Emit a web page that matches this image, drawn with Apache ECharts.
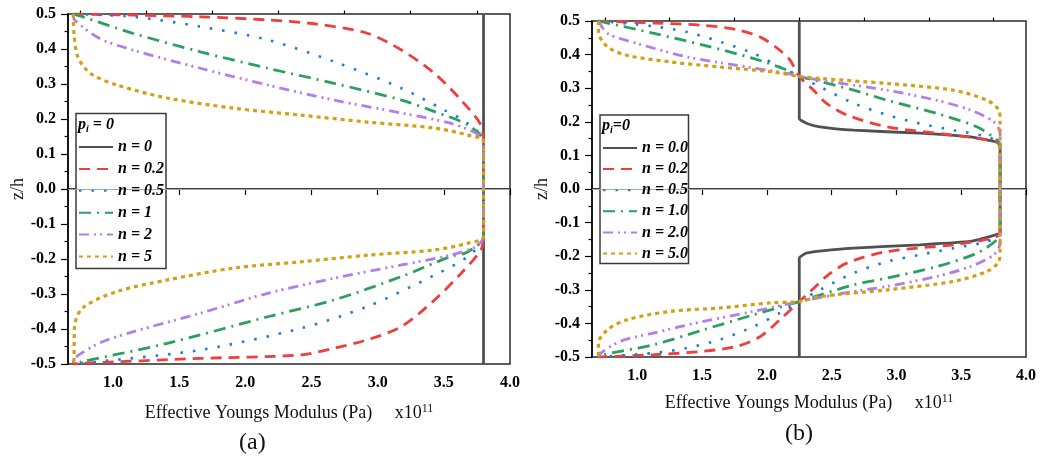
<!DOCTYPE html>
<html>
<head>
<meta charset="utf-8">
<script src="https://cdn.jsdelivr.net/npm/echarts@6/dist/echarts.min.js"></script>
<style>
html, body { margin: 0; padding: 0; background: #fff; }
#chart { width: 1048px; height: 456px; }
</style>
</head>
<body>
<div id="chart"></div>
<script>
// axis ticks
var xMajor = [1.0, 1.5, 2.0, 2.5, 3.0, 3.5, 4.0]
var xMinor = [0.75, 1.25, 1.75, 2.25, 2.75, 3.25, 3.75]
var namesA = ['n = 0', 'n = 0.2', 'n = 0.5', 'n = 1', 'n = 2', 'n = 5']
var namesB = ['n = 0.0', 'n = 0.2', 'n = 0.5', 'n = 1.0', 'n = 2.0', 'n = 5.0']

// panel (a): [E x1e11, z/h]
var aN0 = [[3.80, 0.500], [3.80, -0.500]]
var aN02 = [[0.70, 0.500], [1.15, 0.497], [1.66, 0.492], [2.17, 0.483], [2.54, 0.471], [2.92, 0.445], [3.18, 0.397], [3.43, 0.330], [3.63, 0.254], [3.78, 0.183], [3.80, 0.130],
  [3.80, -0.130], [3.78, -0.174], [3.63, -0.241], [3.43, -0.317], [3.18, -0.393], [2.92, -0.431], [2.67, -0.455], [2.42, -0.474], [1.66, -0.484], [0.77, -0.498], [0.70, -0.500]]
var aN05 = [[0.70, 0.500], [1.15, 0.492], [1.66, 0.464], [2.17, 0.426], [2.67, 0.364], [3.18, 0.288], [3.50, 0.226], [3.68, 0.188], [3.80, 0.135],
  [3.80, -0.135], [3.68, -0.193], [3.43, -0.246], [2.92, -0.336], [2.42, -0.398], [1.66, -0.460], [0.90, -0.493], [0.70, -0.500]]
var aN1 = [[0.70, 0.500], [0.77, 0.492], [1.15, 0.445], [1.66, 0.392], [2.17, 0.345], [2.67, 0.302], [3.18, 0.254], [3.43, 0.221], [3.68, 0.183], [3.80, 0.135],
  [3.80, -0.135], [3.68, -0.180], [3.55, -0.193], [3.18, -0.250], [2.67, -0.317], [2.17, -0.365], [1.41, -0.441], [0.77, -0.493], [0.70, -0.500]]
var aN2 = [[0.70, 0.500], [0.71, 0.483], [0.90, 0.430], [1.15, 0.397], [1.66, 0.345], [2.17, 0.297], [2.67, 0.254], [3.18, 0.217], [3.55, 0.188], [3.74, 0.160], [3.80, 0.135],
  [3.80, -0.135], [3.74, -0.165], [3.55, -0.189], [3.18, -0.217], [2.67, -0.255], [2.17, -0.298], [1.66, -0.355], [1.15, -0.408], [0.90, -0.440], [0.71, -0.483], [0.70, -0.500]]
var aN5 = [[0.70, 0.500], [0.705, 0.445], [0.735, 0.377], [0.83, 0.330], [1.03, 0.297], [1.41, 0.260], [1.91, 0.231], [2.42, 0.211], [2.93, 0.191], [3.43, 0.174], [3.68, 0.154], [3.80, 0.135],
  [3.80, -0.135], [3.68, -0.155], [3.43, -0.174], [2.93, -0.189], [2.42, -0.208], [1.91, -0.226], [1.41, -0.260], [1.03, -0.293], [0.77, -0.340], [0.71, -0.393], [0.705, -0.485], [0.70, -0.500]]

// panel (b)
var bN0 = [[2.25, 0.500], [2.25, 0.210], [2.31, 0.195], [2.41, 0.185], [2.67, 0.175], [3.18, 0.166], [3.57, 0.155], [3.77, 0.140], [3.80, 0.130],
  [3.80, -0.130], [3.77, -0.136], [3.57, -0.156], [3.18, -0.166], [2.67, -0.176], [2.31, -0.190], [2.25, -0.206], [2.25, -0.500]]
var bN02 = [[0.70, 0.500], [1.13, 0.494], [1.51, 0.487], [1.77, 0.474], [1.95, 0.452], [2.10, 0.413], [2.18, 0.383], [2.25, 0.335], [2.36, 0.294], [2.46, 0.255], [2.62, 0.220], [2.93, 0.185], [3.44, 0.160], [3.70, 0.146], [3.80, 0.130],
  [3.80, -0.130], [3.74, -0.146], [3.44, -0.166], [2.93, -0.186], [2.62, -0.220], [2.46, -0.260], [2.335, -0.305], [2.25, -0.335], [2.10, -0.389], [1.95, -0.439], [1.77, -0.468], [1.51, -0.483], [1.13, -0.493], [0.70, -0.500]]
var bN05 = [[0.70, 0.500], [1.13, 0.484], [1.385, 0.467], [1.64, 0.438], [1.90, 0.403], [2.10, 0.363], [2.25, 0.335], [2.41, 0.304], [2.67, 0.255], [2.93, 0.220], [3.18, 0.195], [3.44, 0.175], [3.70, 0.155], [3.80, 0.130],
  [3.80, -0.130], [3.70, -0.156], [3.44, -0.176], [3.18, -0.196], [2.93, -0.216], [2.67, -0.250], [2.41, -0.300], [2.25, -0.335], [2.10, -0.369], [1.90, -0.409], [1.64, -0.448], [1.385, -0.473], [1.13, -0.488], [0.70, -0.500]]
var bN1 = [[0.70, 0.500], [1.13, 0.463], [1.51, 0.428], [1.90, 0.388], [2.155, 0.354], [2.25, 0.335], [2.36, 0.325], [2.67, 0.294], [2.93, 0.264], [3.31, 0.225], [3.62, 0.185], [3.78, 0.145], [3.80, 0.130],
  [3.80, -0.130], [3.78, -0.150], [3.62, -0.191], [3.31, -0.231], [2.93, -0.265], [2.67, -0.285], [2.25, -0.335], [1.90, -0.374], [1.51, -0.419], [1.13, -0.463], [0.74, -0.493], [0.70, -0.500]]
var bN2 = [[0.70, 0.500], [0.77, 0.463], [1.00, 0.433], [1.385, 0.393], [1.77, 0.368], [2.155, 0.344], [2.25, 0.335], [2.41, 0.324], [2.67, 0.309], [2.93, 0.294], [3.31, 0.264], [3.57, 0.235], [3.75, 0.200], [3.80, 0.165], [3.80, 0.130],
  [3.80, -0.130], [3.80, -0.160], [3.75, -0.196], [3.57, -0.231], [3.31, -0.260], [2.93, -0.290], [2.67, -0.305], [2.25, -0.335], [1.90, -0.364], [1.51, -0.394], [1.13, -0.428], [0.87, -0.453], [0.72, -0.488], [0.70, -0.500]]
var bN5 = [[0.70, 0.500], [0.70, 0.467], [0.77, 0.423], [0.92, 0.398], [1.26, 0.378], [1.64, 0.363], [2.03, 0.349], [2.25, 0.335], [2.41, 0.329], [2.93, 0.314], [3.44, 0.294], [3.70, 0.264], [3.79, 0.235], [3.80, 0.205],
  [3.80, -0.180], [3.79, -0.216], [3.70, -0.245], [3.44, -0.275], [2.93, -0.300], [2.41, -0.320], [2.25, -0.335], [2.03, -0.339], [1.64, -0.354], [1.26, -0.364], [0.92, -0.389], [0.77, -0.419], [0.70, -0.458], [0.70, -0.500]]

var dataA = [aN0, aN02, aN05, aN1, aN2, aN5]
var dataB = [bN0, bN02, bN05, bN1, bN2, bN5]

var colors = ['#505050', '#ef3e3e', '#1f78e4', '#2aa05e', '#b37ee6', '#d3a012']
var dashes = ['solid', [11, 7], [2.5, 10], [12, 6, 2, 6], [10, 5, 2, 4, 2, 5], [4, 4]]
var widths = [2.8, 2.8, 2.6, 2.8, 2.8, 3.2]
var FONT = 'Liberation Serif'

var chart = echarts.init(document.getElementById('chart'))

function makeSeries (prefix, names, datas, g) {
  var list = []
  for (let i = 0; i < names.length; i++) {
    var s = {
      name: prefix + names[i],
      type: 'line',
      xAxisIndex: g * 2,
      yAxisIndex: g,
      data: datas[i],
      symbol: 'none',
      smooth: i === 0 ? 0.15 : 0.3,
      animation: false,
      lineStyle: { color: colors[i], width: widths[i], type: dashes[i] },
      itemStyle: { color: colors[i] }
    }
    if (i === 0) {
      s.markLine = {
        silent: true,
        symbol: 'none',
        label: { show: false },
        lineStyle: { color: '#a8a8a8', width: 1, type: 'solid' },
        data: [{ yAxis: 0 }]
      }
    }
    list.push(s)
  }
  return list
}

function xAxes (g, min, gap) {
  return [{
    type: 'value', gridIndex: g, min: min, max: 4.0,
    name: 'Effective Youngs Modulus (Pa)     x10{sup|11}',
    nameLocation: 'middle', nameGap: gap,
    nameTextStyle: { fontFamily: FONT, fontSize: 18, color: '#111', rich: { sup: { fontFamily: FONT, fontSize: 12, verticalAlign: 'top', padding: [0, 0, 8, 0], color: '#111' } } },
    splitLine: { show: false },
    axisLine: { lineStyle: { color: '#000', width: 1.5 } },
    axisTick: { length: 6, customValues: xMajor, lineStyle: { color: '#000', width: 1.2 } },
    axisLabel: { customValues: xMajor, margin: 11, fontFamily: FONT, fontWeight: 'bold', fontSize: 16, color: '#000', formatter: function (v) { return v.toFixed(1) } }
  }, {
    type: 'value', gridIndex: g, min: min, max: 4.0,
    splitLine: { show: false },
    axisLine: { show: false },
    axisTick: { length: 3.5, customValues: xMinor, lineStyle: { color: '#000', width: 1.2 } },
    axisLabel: { show: false }
  }]
}

function yAxis (g, gap) {
  return {
    type: 'value', gridIndex: g, min: -0.5, max: 0.5, interval: 0.1,
    name: 'z/h', nameLocation: 'middle', nameGap: gap,
    nameTextStyle: { fontFamily: FONT, fontSize: 18, color: '#111' },
    splitLine: { show: false },
    axisLine: { lineStyle: { color: '#000', width: 1.5 } },
    axisTick: { length: 7, lineStyle: { color: '#000', width: 1.2 } },
    minorTick: { show: true, splitNumber: 2, length: 3.5, lineStyle: { color: '#000', width: 1.2 } },
    axisLabel: { margin: 12, fontFamily: FONT, fontWeight: 'bold', fontSize: 16, color: '#000', formatter: function (v) { return v.toFixed(1) } }
  }
}

function legend (prefix, names, left, top, gap) {
  return {
    data: names.map(function (n) { return prefix + n }),
    orient: 'vertical', left: left, top: top, padding: 0,
    itemWidth: 34, itemHeight: 14, itemGap: gap, itemTextGap: 4,
    z: 6,
    selectedMode: false,
    itemStyle: { opacity: 0 },
    formatter: function (n) { return n.slice(2) },
    textStyle: { fontFamily: FONT, fontSize: 16, fontWeight: 'bold', fontStyle: 'italic', color: '#000' }
  }
}

function pTitle (x, y, txt) {
  return {
    type: 'text', left: x, top: y, z: 7,
    style: {
      text: '{p|p}{s|i}{p|' + txt + '}',
      rich: {
        p: { fontFamily: FONT, fontSize: 16, fontWeight: 'bold', fontStyle: 'italic', fill: '#000', lineHeight: 18, verticalAlign: 'middle' },
        s: { fontFamily: FONT, fontSize: 10, fontWeight: 'bold', fontStyle: 'italic', fill: '#000', lineHeight: 18, verticalAlign: 'bottom' }
      }
    }
  }
}

var option = {
  backgroundColor: '#fff',
  animation: false,
  grid: [
    { left: 68, top: 14, width: 442, height: 350, show: true, borderColor: '#2a2a2a', borderWidth: 1.5, backgroundColor: 'transparent' },
    { left: 592, top: 21, width: 434, height: 336, show: true, borderColor: '#2a2a2a', borderWidth: 1.5, backgroundColor: 'transparent' }
  ],
  xAxis: xAxes(0, 0.66, 39).concat(xAxes(1, 0.65, 36)),
  yAxis: [yAxis(0, 40), yAxis(1, 38)],
  legend: [
    legend('a:', namesA, 78, 139, 5.9),
    legend('b:', namesB, 602, 140, 5.1)
  ],
  graphic: [
    { type: 'rect', z: 5, shape: { x: 76, y: 113.5, width: 90, height: 155 }, style: { fill: '#fff', stroke: '#3a3a3a', lineWidth: 1.5 } },
    { type: 'rect', z: 5, shape: { x: 600, y: 115, width: 88.5, height: 148.5 }, style: { fill: '#fff', stroke: '#3a3a3a', lineWidth: 1.5 } },
    pTitle(78, 117, ' = 0'),
    pTitle(602, 118, '=0'),
    { type: 'text', left: 239, top: 431, style: { text: '(a)', fontFamily: FONT, fontSize: 24, fill: '#111' } },
    { type: 'text', left: 785, top: 422, style: { text: '(b)', fontFamily: FONT, fontSize: 24, fill: '#111' } }
  ],
  series: makeSeries('a:', namesA, dataA, 0).concat(makeSeries('b:', namesB, dataB, 1))
}

chart.setOption(option)
</script>
</body>
</html>
